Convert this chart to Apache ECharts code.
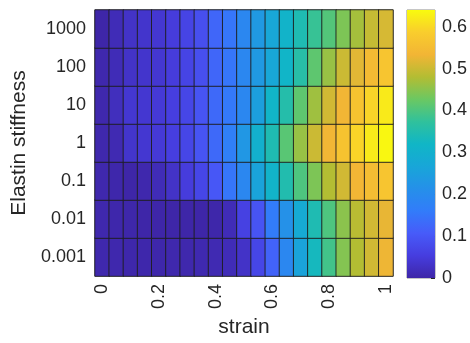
<!DOCTYPE html>
<html>
<head>
<meta charset="utf-8">
<script src="https://cdn.jsdelivr.net/npm/echarts@6/dist/echarts.min.js"></script>
<style>
  html, body { margin: 0; padding: 0; background: #fff; }
  #chart { width: 470px; height: 343px; }
</style>
</head>
<body>
<div id="chart"></div>
<script>
// strain along x, elastin stiffness along y (bottom to top)
const strains = ['0', '0.05', '0.1', '0.15', '0.2', '0.25', '0.3', '0.35', '0.4', '0.45', '0.5',
  '0.55', '0.6', '0.65', '0.7', '0.75', '0.8', '0.85', '0.9', '0.95', '1'];
const stiffness = ['0.001', '0.01', '0.1', '1', '10', '100', '1000'];

// one row per stiffness, values
const row0001 = [0.005, 0.005, 0.003, 0.003, 0.003, 0.005, 0.005, 0.008, 0.01, 0.015, 0.03,
  0.07, 0.12, 0.19, 0.26, 0.33, 0.39, 0.445, 0.48, 0.505, 0.53];
const row001 = [0.005, 0.003, 0.002, 0.0, 0.0, 0.0, 0.0, 0.0, 0.002, 0.015, 0.06,
  0.095, 0.16, 0.215, 0.28, 0.345, 0.4, 0.45, 0.485, 0.505, 0.525];
const row01 = [0.005, 0.003, 0.0, 0.005, 0.015, 0.03, 0.05, 0.07, 0.1, 0.15, 0.19,
  0.26, 0.31, 0.35, 0.4, 0.44, 0.48, 0.505, 0.535, 0.55, 0.57];
const row1 = [0.005, 0.01, 0.035, 0.04, 0.045, 0.055, 0.07, 0.095, 0.13, 0.17, 0.23,
  0.3, 0.345, 0.41, 0.46, 0.5, 0.535, 0.565, 0.595, 0.62, 0.635];
const row10 = [0.005, 0.02, 0.04, 0.04, 0.045, 0.055, 0.07, 0.095, 0.13, 0.155, 0.19,
  0.25, 0.315, 0.355, 0.415, 0.465, 0.505, 0.535, 0.565, 0.595, 0.62];
const row100 = [0.005, 0.015, 0.03, 0.035, 0.04, 0.05, 0.065, 0.085, 0.125, 0.15, 0.19,
  0.235, 0.27, 0.315, 0.36, 0.415, 0.46, 0.5, 0.52, 0.545, 0.57];
const row1000 = [0.0, 0.015, 0.03, 0.035, 0.04, 0.05, 0.065, 0.085, 0.125, 0.15, 0.19,
  0.235, 0.27, 0.31, 0.345, 0.38, 0.405, 0.44, 0.47, 0.495, 0.51];

const rows = [row0001, row001, row01, row1, row10, row100, row1000];

// colour scale (parula-like), evenly spread from cbMin to cbMax
const cbMin = 0;
const cbMax = 0.64;
const parula = ['#3e26a8', '#463ddf', '#475bf9', '#327cfa', '#2590e9', '#18a6d8', '#10b6c6',
  '#30c19c', '#6bc862', '#b3bd33', '#f2b535', '#f9cd2d', '#f9fb0e'];

const cells = [];
rows.forEach((r, yi) => r.forEach((v, xi) => cells.push([xi, yi, v])));

const ink = '#262626';
const font = 'Liberation Sans, Arial, Helvetica, sans-serif';

const chart = echarts.init(document.getElementById('chart'), null, { renderer: 'canvas' });
chart.setOption({
  animation: false,
  textStyle: { fontFamily: font, color: ink },
  grid: [
    { left: 95, top: 10, width: 298, height: 269, show: true, borderColor: '#9a9a9a', borderWidth: 1 },
    { left: 407, top: 10, width: 29, height: 268, show: true, borderColor: '#8c8c8c', borderWidth: 1 },
  ],
  xAxis: [
    {
      type: 'category',
      gridIndex: 0,
      data: strains,
      name: 'strain',
      nameLocation: 'middle',
      nameGap: 40,
      nameTextStyle: { fontSize: 21, color: ink, fontFamily: font },
      axisLine: { show: false },
      axisTick: { show: false },
      splitLine: { show: false },
      axisLabel: { interval: 3, rotate: 90, fontSize: 18, color: ink, margin: 8, fontFamily: font },
    },
    { type: 'category', gridIndex: 1, data: [''], show: false },
  ],
  yAxis: [
    {
      type: 'category',
      gridIndex: 0,
      data: stiffness,
      name: 'Elastin stiffness',
      nameLocation: 'middle',
      nameGap: 64,
      nameTextStyle: { fontSize: 21, color: ink, fontFamily: font },
      axisLine: { show: false },
      axisTick: { show: false },
      splitLine: { show: false },
      axisLabel: { fontSize: 18, color: ink, margin: 9, fontFamily: font },
    },
    {
      type: 'value',
      gridIndex: 1,
      position: 'right',
      min: cbMin,
      max: cbMax,
      interval: 0.1,
      axisLine: { show: false },
      axisTick: { show: true, inside: true, length: 4, lineStyle: { color: ink } },
      splitLine: { show: false },
      axisLabel: { fontSize: 18, color: ink, margin: 7, showMaxLabel: false, fontFamily: font },
    },
  ],
  visualMap: {
    show: false,
    seriesIndex: 0,
    min: cbMin,
    max: cbMax,
    inRange: { color: parula },
  },
  series: [
    {
      type: 'heatmap',
      xAxisIndex: 0,
      yAxisIndex: 0,
      data: cells,
      itemStyle: { borderColor: 'rgba(30,30,30,0.9)', borderWidth: 1 },
      emphasis: { disabled: true },
    },
    {
      type: 'bar',
      xAxisIndex: 1,
      yAxisIndex: 1,
      barWidth: '100%',
      silent: true,
      data: [cbMax],
      itemStyle: {
        color: new echarts.graphic.LinearGradient(0, 1, 0, 0,
          parula.map((c, i) => ({ offset: i / (parula.length - 1), color: c }))),
      },
    },
  ],
});
</script>
</body>
</html>
